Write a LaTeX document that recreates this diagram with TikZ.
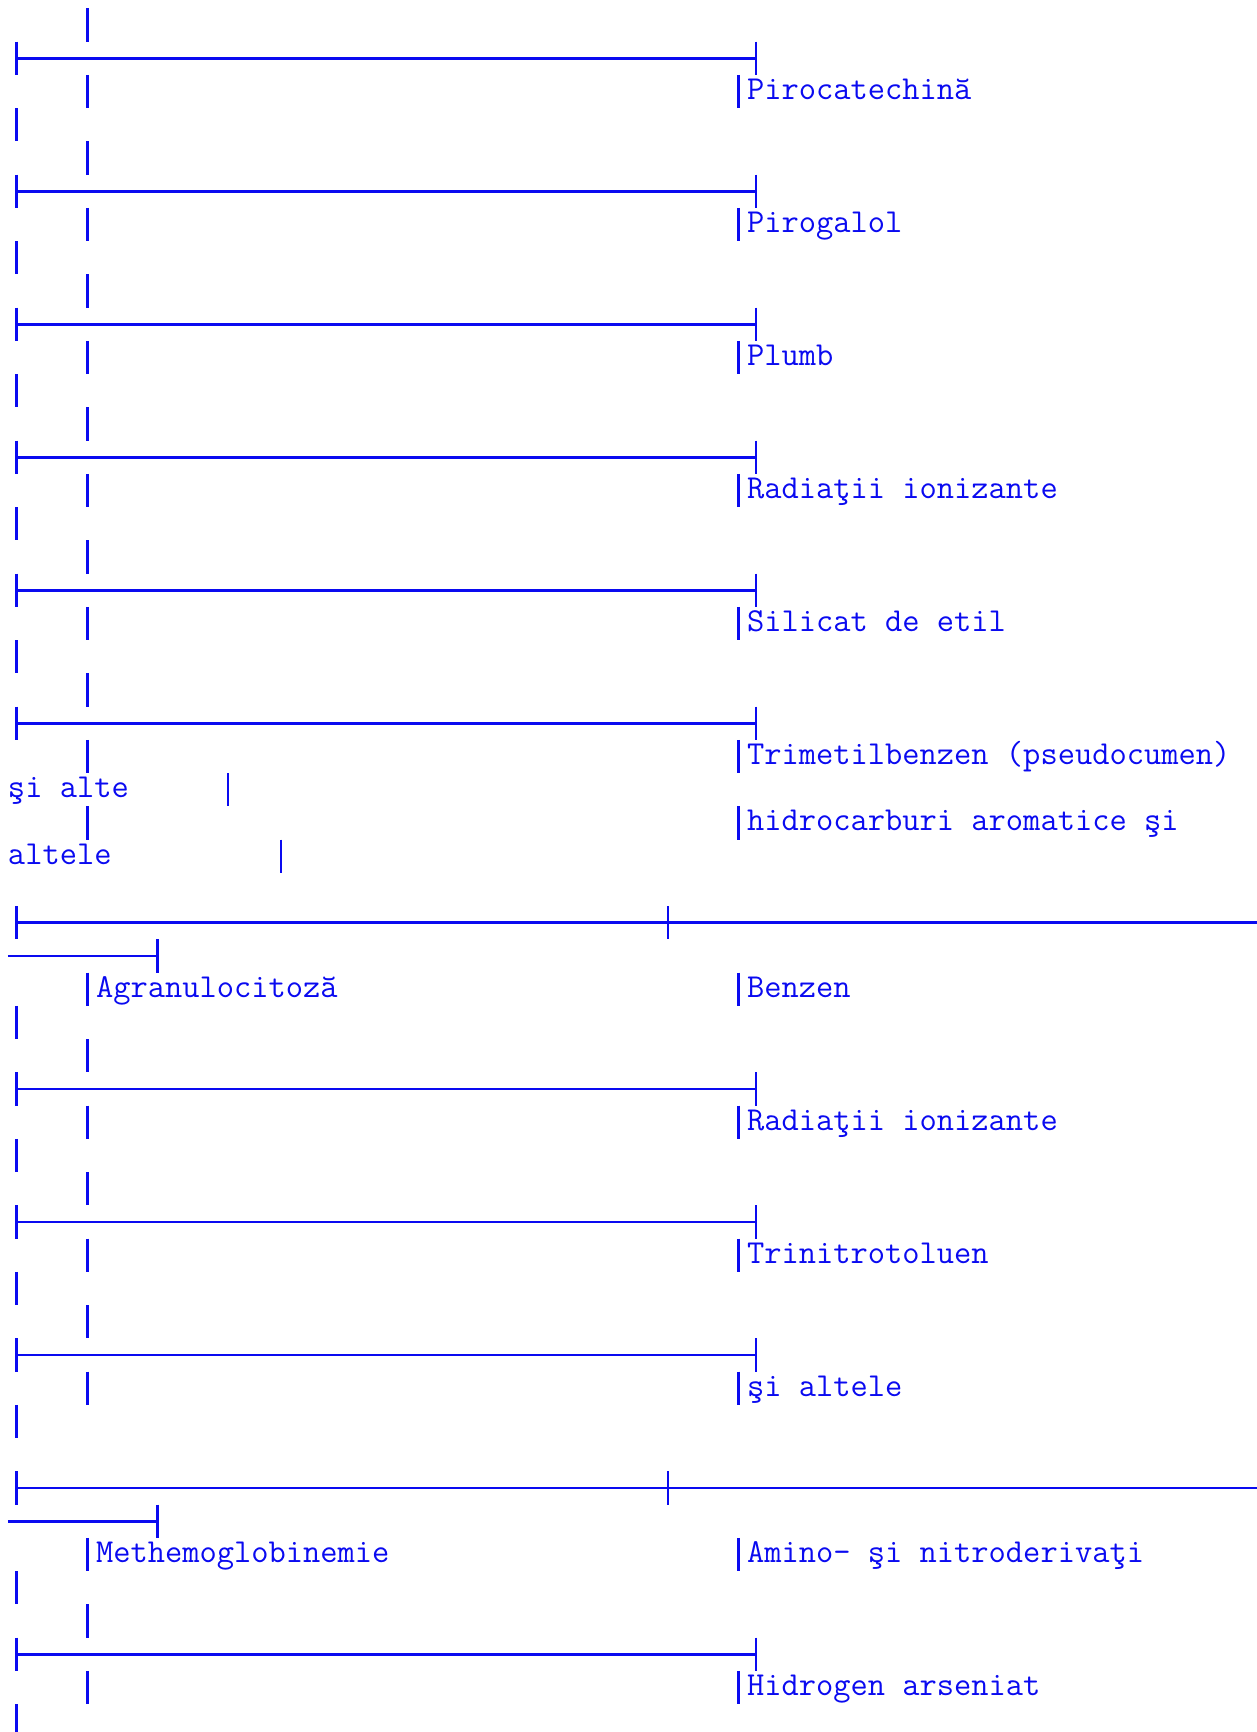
\documentclass[tikz,border=0pt]{standalone}
\usepackage{fontspec}
\usepackage{tikz}
\definecolor{listblue}{RGB}{10,10,240}

% one vertical stroke in column #1 of text line #2
\newcommand{\listbar}[2]{\draw (#1+0.5,#2-0.5) -- (#1+0.5,#2+0.5);}
% rule from column 0 to column 42 on line #1
\newcommand{\listrule}[1]{\draw (0.5,#1-0.5) -- (0.5,#1+0.5) (0.5,#1) -- (42.5,#1) (42.5,#1-0.5) -- (42.5,#1+0.5);}
% long rule with a cross at column 37, wrapped onto the next line
\newcommand{\longrule}[1]{\draw (0.5,#1-0.5) -- (0.5,#1+0.5) (0.5,#1) -- (71,#1) (37.5,#1-0.5) -- (37.5,#1+0.5);
  \draw (0,#1+1) -- (8.5,#1+1) (8.5,#1+0.5) -- (8.5,#1+1.5);}

\begin{document}
\begin{tikzpicture}[
        x=17.6pt, y=-33.25pt,
        color=listblue, line width=2.6pt,
        every node/.style={inner sep=0pt, outer sep=0pt, anchor=base west,
          font=\ttfamily\fontsize{33.5pt}{33.25pt}\selectfont}
        ]
        \tikzstyle{entry} = [];
        \useasboundingbox (-8pt,25pt) rectangle (1248pt,-1707pt);

        % lone strokes
        \foreach \k in {3,7,11,15,19,30,34,38,42,47,51} {\listbar{0}{\k}}
        \foreach \k in {0,4,8,12,16,20,31,35,39,48} {\listbar{4}{\k}}
        \foreach \k in {2,6,10,14,18,22,24,29,33,37,41,46,50} {\listbar{4}{\k} \listbar{41}{\k}}

        % rules
        \foreach \k in {1,5,9,13,17,21,32,36,40,49} {\listrule{\k}}
        \longrule{27}
        \longrule{44}

        % right column
        \node[entry] (pirocatechina) at (42,2.235) {Pirocatechină};
        \node[entry] (pirogalol) at (42,6.235) {Pirogalol};
        \node[entry] (plumb) at (42,10.235) {Plumb};
        \node[entry] (radiatii1) at (42,14.235) {Radiaţii ionizante};
        \node[entry] (silicat) at (42,18.235) {Silicat de etil};
        \node[entry] (trimetil) at (42,22.235) {Trimetilbenzen (pseudocumen)};
        \node[entry] (hidrocarb) at (42,24.235) {hidrocarburi aromatice şi};
        \node[entry] (benzen) at (42,29.235) {Benzen};
        \node[entry] (radiatii2) at (42,33.235) {Radiaţii ionizante};
        \node[entry] (tnt) at (42,37.235) {Trinitrotoluen};
        \node[entry] (altele) at (42,41.235) {şi altele};
        \node[entry] (amino) at (42,46.235) {Amino- şi nitroderivaţi};
        \node[entry] (arseniat) at (42,50.235) {Hidrogen arseniat};

        % wrapped pieces on the left
        \node[entry] (sialte) at (0,23.235) {şi alte};
        \listbar{12}{23}
        \node[entry] (altele2) at (0,25.235) {altele};
        \listbar{15}{25}

        % left column
        \node[entry] (agranulo) at (5,29.235) {Agranulocitoză};
        \node[entry] (methemo) at (5,46.235) {Methemoglobinemie};
\end{tikzpicture}
\end{document}
